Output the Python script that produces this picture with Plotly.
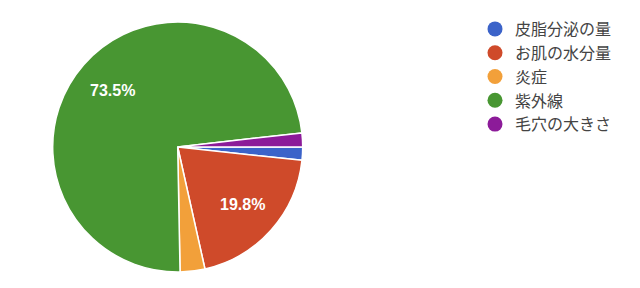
import math
import plotly.graph_objects as go

labels = ["皮脂分泌の量", "お肌の水分量", "炎症", "紫外線", "毛穴の大きさ"]
values = [1.7, 19.8, 3.2, 73.5, 1.8]
colors = ["#3b63c9", "#cf4a2a", "#f2a03a", "#489632", "#8c1b99"]

W, H = 640, 288
CX, CY, R = 177.7, 147.0, 125.0  # pie centre / radius in pixels (y from top)

fig = go.Figure()
fig.add_trace(go.Pie(
    labels=labels, values=values, sort=False, direction="clockwise", rotation=90,
    marker=dict(colors=colors, line=dict(color="white", width=1.5)),
    textinfo="none",
    domain=dict(x=[(CX - R) / W, (CX + R) / W], y=[(H - CY - R) / H, (H - CY + R) / H]),
    showlegend=False, hoverinfo="label+percent",
))

# percentage labels for the large slices, placed at each slice's mid-angle
total = sum(values)
cum = 0.0
for v in values:
    mid = (cum + v / 2) / total * 2 * math.pi  # clockwise from 3 o'clock
    cum += v
    pct = v / total * 100
    if pct < 5:
        continue
    d = 0.69 * R
    px = CX + d * math.cos(mid)
    py = CY + d * math.sin(mid)
    fig.add_annotation(
        x=px / W, y=1 - py / H, xref="paper", yref="paper",
        text=f"<b>{pct:.1f}%</b>", showarrow=False,
        font=dict(family="Liberation Sans, Arial", size=16, color="white"),
        xanchor="center", yanchor="middle",
    )

for i, (lab, col) in enumerate(zip(labels, colors)):
    fig.add_trace(go.Scatter(
        x=[None], y=[None], mode="markers", name=lab,
        marker=dict(color=col, size=15, symbol="circle"),
        legendgroup=f"g{i}", showlegend=True,
    ))

fig.update_layout(
    width=W, height=H,
    margin=dict(l=0, r=0, t=0, b=0),
    paper_bgcolor="white", plot_bgcolor="white",
    xaxis=dict(visible=False), yaxis=dict(visible=False),
    legend=dict(x=(515 - 40) / W, y=1 - 12 / H, xanchor="left", yanchor="top",
                font=dict(family="Noto Sans CJK JP", size=16, color="#444444"),
                tracegroupgap=0, itemwidth=30, bgcolor="rgba(0,0,0,0)"),
)
fig.write_html("out.html")
